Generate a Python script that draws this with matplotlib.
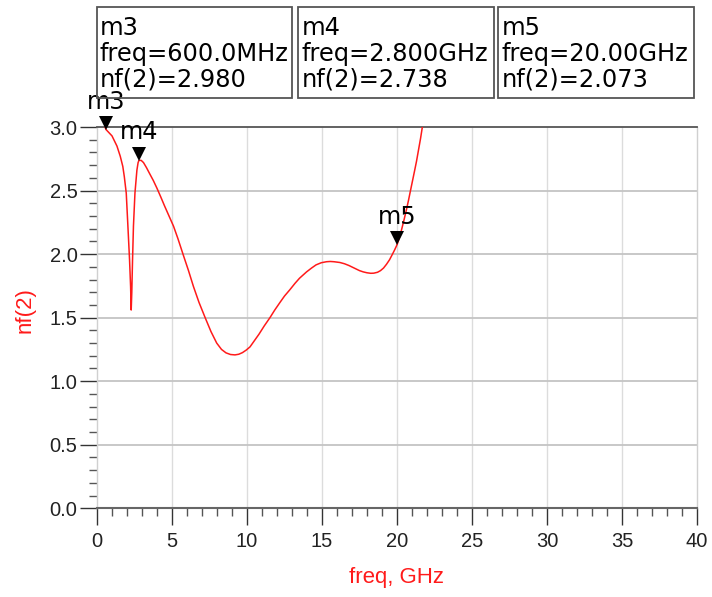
import matplotlib
matplotlib.use("Agg")
import matplotlib.pyplot as plt
from matplotlib.ticker import MultipleLocator, FormatStrFormatter
from matplotlib.transforms import offset_copy

plt.rcParams['font.family'] = ['Liberation Sans', 'DejaVu Sans']

# curve data (freq in GHz, nf(2))
freq = [0.5, 0.6, 1.0, 1.33, 1.55, 1.72, 1.82, 1.95, 2.06, 2.17, 2.24, 2.28,
        2.32, 2.37, 2.43, 2.53, 2.66, 2.74, 2.8, 2.95, 3.1, 3.3, 3.5, 3.75,
        3.99, 4.25, 4.5, 4.8, 5.1, 5.4, 5.76, 6.1, 6.43, 6.8, 7.21, 7.6, 7.98,
        8.3, 8.6, 8.9, 9.2, 9.45, 9.7, 9.95, 10.2, 10.5, 10.8, 11.15, 11.53,
        11.85, 12.2, 12.5, 12.86, 13.2, 13.5, 13.97, 14.3, 14.6, 14.95, 15.3,
        15.55, 15.8, 16.19, 16.5, 16.8, 17.15, 17.5, 17.75, 18.0, 18.25,
        18.45, 18.7, 18.9, 19.1, 19.3, 19.5, 19.7, 19.85, 20.0, 20.15, 20.3,
        20.47, 20.63, 20.77, 20.9, 21.04, 21.18, 21.3, 21.45, 21.57, 21.69,
        21.9]
nf = [3.01, 2.98, 2.93, 2.85, 2.77, 2.69, 2.61, 2.48, 2.22, 1.955, 1.745, 1.56,
      1.70, 1.955, 2.22, 2.48, 2.66, 2.72, 2.738, 2.737, 2.72, 2.68, 2.635,
      2.58, 2.52, 2.45, 2.38, 2.30, 2.22, 2.12, 1.99, 1.87, 1.745, 1.62,
      1.50, 1.39, 1.30, 1.25, 1.223, 1.21, 1.207, 1.212, 1.225, 1.245, 1.27,
      1.32, 1.37, 1.435, 1.50, 1.56, 1.62, 1.67, 1.72, 1.77, 1.81, 1.86,
      1.89, 1.915, 1.932, 1.94, 1.942, 1.94, 1.934, 1.924, 1.91, 1.89, 1.87,
      1.86, 1.853, 1.849, 1.85, 1.857, 1.87, 1.89, 1.92, 1.955, 2.00, 2.035,
      2.073, 2.125, 2.19, 2.27, 2.35, 2.425, 2.50, 2.58, 2.66, 2.73, 2.83,
      2.91, 3.0, 3.13]

marker_names = ["m3", "m4", "m5"]
marker_freq = [0.6, 2.8, 20.0]
marker_nf = [2.980, 2.738, 2.073]
marker_freq_text = ["600.0MHz", "2.800GHz", "20.00GHz"]

fig = plt.figure(figsize=(7.12, 5.97), dpi=100)
ax = fig.add_axes([97/712, 1 - 508.3/597, 600/712, (508.3 - 127)/597])

ax.set_xlim(0, 40)
ax.set_ylim(0, 3.0)

ax.xaxis.set_major_locator(MultipleLocator(5))
ax.xaxis.set_minor_locator(MultipleLocator(1))
ax.yaxis.set_major_locator(MultipleLocator(0.5))
ax.yaxis.set_minor_locator(MultipleLocator(0.1))
ax.yaxis.set_major_formatter(FormatStrFormatter('%.1f'))
for xv in range(5, 40, 5):
    ax.axvline(xv, color='#dcdcdc', lw=1.0, zorder=0)
for yv in [0.5, 1.0, 1.5, 2.0, 2.5]:
    ax.axhline(yv, color='#c4c4c4', lw=1.3, zorder=0)

ax.plot(freq, nf, color='#ff1a1a', lw=1.1, zorder=3, clip_on=True)

for s in ['left', 'right']:
    ax.spines[s].set_color('#d0d0d0')
    ax.spines[s].set_linewidth(1.0)
ax.spines['top'].set_color('#555555')
ax.spines['top'].set_linewidth(1.3)
ax.spines['bottom'].set_color('#666666')
ax.spines['bottom'].set_linewidth(1.5)

ax.tick_params(which='major', length=12, width=1.0, color='#333333',
               labelsize=14.5, labelcolor='#222222', pad=2)
ax.tick_params(which='minor', length=6, width=1.0, color='#555555')
ax.tick_params(axis='x', which='major', pad=5)

fig.text(397/712, 1 - 578/597, 'freq, GHz', color='#ff1a1a', fontsize=16,
         ha='center', va='center')
fig.text(25/712, 1 - 310/597, 'nf(2)', color='#ff1a1a', fontsize=16,
         ha='center', va='center', rotation=90)

# markers: downward triangles with the tip on the data point
ms = 9.6
tri_tr = offset_copy(ax.transData, fig=fig, x=0, y=ms/2, units='points')
for name, fx, fy in zip(marker_names, marker_freq, marker_nf):
    ax.plot([fx], [fy], marker='v', color='black', markersize=ms,
            markeredgewidth=0, linestyle='none', clip_on=False, zorder=5,
            transform=tri_tr)
    ax.annotate(name, xy=(fx, fy), xytext=(0, 15), textcoords='offset points',
                ha='center', va='baseline', fontsize=17.3, color='black',
                family='DejaVu Sans', annotation_clip=False, zorder=6)

# readout boxes
box_left = [96.5, 298, 498.5]
box_w = 195.5
for name, ft, fy, bx in zip(marker_names, marker_freq_text, marker_nf, box_left):
    rect = plt.Rectangle((bx/712, 1 - 98/597), box_w/712, 91/597,
                         transform=fig.transFigure, fill=False,
                         edgecolor='#555555', lw=1.3)
    fig.add_artist(rect)
    fig.text((bx + 3.5)/712, 1 - 16/597,
             f"{name}\nfreq={ft}\nnf(2)={fy:.3f}",
             ha='left', va='top', fontsize=17.4, linespacing=1.08,
             color='black', family='DejaVu Sans')

fig.savefig('out.png', dpi=100)
